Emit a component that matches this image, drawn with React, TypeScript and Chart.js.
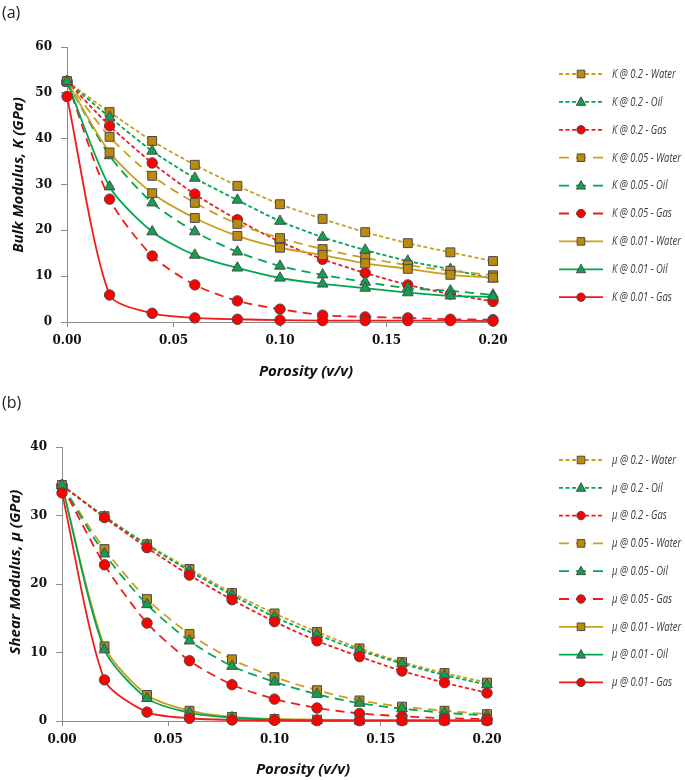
import React, { useEffect, useRef } from 'react';
import { Chart, registerables } from 'chart.js';

Chart.register(...registerables);

// ---------- data ----------
const porosity = [0, 0.02, 0.04, 0.06, 0.08, 0.1, 0.12, 0.14, 0.16, 0.18, 0.2];

const kLabels = [
  'K @ 0.2 - Water', 'K @ 0.2 - Oil', 'K @ 0.2 - Gas',
  'K @ 0.05 - Water', 'K @ 0.05 - Oil', 'K @ 0.05 - Gas',
  'K @ 0.01 - Water', 'K @ 0.01 - Oil', 'K @ 0.01 - Gas',
];
const K_02_Water = [52.5, 45.8, 39.5, 34.3, 29.7, 25.7, 22.5, 19.6, 17.2, 15.2, 13.3];
const K_02_Oil = [52.5, 44.7, 37.3, 31.4, 26.6, 22.0, 18.5, 15.7, 13.3, 11.5, 9.4];
const K_02_Gas = [52.5, 42.8, 34.7, 27.9, 22.3, 17.5, 13.7, 10.7, 8.1, 6.1, 4.5];
const K_005_Water = [52.5, 40.4, 31.9, 26.0, 21.4, 18.3, 15.9, 14.0, 12.4, 11.2, 10.2];
const K_005_Oil = [52.5, 36.3, 26.0, 19.7, 15.3, 12.2, 10.3, 8.7, 7.4, 6.8, 5.9];
const K_005_Gas = [52.5, 26.8, 14.4, 8.1, 4.6, 2.8, 1.5, 1.1, 0.9, 0.6, 0.5];
const K_001_Water = [52.5, 37.0, 28.1, 22.7, 18.8, 16.2, 14.6, 12.8, 11.6, 10.3, 9.7];
const K_001_Oil = [52.5, 29.5, 19.7, 14.6, 11.8, 9.6, 8.3, 7.4, 6.4, 5.7, 5.5];
const K_001_Gas = [49.2, 5.9, 1.9, 0.9, 0.6, 0.4, 0.3, 0.3, 0.3, 0.3, 0.2];

const muLabels = [
  'μ @ 0.2 - Water', 'μ @ 0.2 - Oil', 'μ @ 0.2 - Gas',
  'μ @ 0.05 - Water', 'μ @ 0.05 - Oil', 'μ @ 0.05 - Gas',
  'μ @ 0.01 - Water', 'μ @ 0.01 - Oil', 'μ @ 0.01 - Gas',
];
const MU_02_Water = [34.4, 29.9, 25.8, 22.2, 18.7, 15.7, 13.0, 10.6, 8.6, 7.0, 5.6];
const MU_02_Oil = [34.4, 29.8, 25.7, 21.9, 18.4, 15.2, 12.6, 10.3, 8.4, 6.7, 5.3];
const MU_02_Gas = [34.4, 29.7, 25.3, 21.3, 17.7, 14.5, 11.7, 9.4, 7.3, 5.6, 4.1];
const MU_005_Water = [34.4, 25.1, 17.8, 12.7, 9.0, 6.4, 4.5, 3.0, 2.1, 1.5, 1.0];
const MU_005_Oil = [34.4, 24.4, 17.0, 11.7, 8.0, 5.7, 3.9, 2.6, 1.8, 1.2, 0.8];
const MU_005_Gas = [34.4, 22.8, 14.3, 8.8, 5.3, 3.2, 1.9, 1.1, 0.7, 0.4, 0.3];
const MU_001_Water = [34.4, 10.9, 3.8, 1.5, 0.6, 0.3, 0.2, 0.1, 0.1, 0.1, 0.1];
const MU_001_Oil = [34.4, 10.4, 3.3, 1.2, 0.5, 0.2, 0.1, 0.1, 0.1, 0.1, 0.1];
const MU_001_Gas = [33.3, 6.0, 1.3, 0.4, 0.15, 0.1, 0.05, 0.05, 0.05, 0.05, 0.05];

const xTicks = [0, 0.05, 0.1, 0.15, 0.2];
const kTicks = [0, 10, 20, 30, 40, 50, 60];
const muTicks = [0, 10, 20, 30, 40];

// ---------- styles ----------
const lineColors = ['#C9A01E', '#00A651', '#EE1C1C'];
const fillColors = ['#BC8A0C', '#12A150', '#FF0000'];
const markerEdge = '#4a4a4a';
const pointStyles = ['rect', 'triangle', 'circle'];
const pointRadii = [6.3, 6.2, 5.2];
const dashes = [[4, 2.5], [9, 6], []];
const legendDashes = [[4, 2.5], [10, 7], []];

function makeDatasets(labels: string[], values: number[][]) {
  return values.map((vals, i) => {
    const f = i % 3;
    const c = Math.floor(i / 3);
    return {
      label: labels[i],
      data: vals.map((v, j) => ({ x: porosity[j], y: v })),
      borderColor: lineColors[f],
      backgroundColor: fillColors[f],
      pointBackgroundColor: fillColors[f],
      pointBorderColor: markerEdge,
      pointBorderWidth: 1,
      pointStyle: pointStyles[f],
      pointRadius: pointRadii[f],
      borderWidth: 1.8,
      borderDash: dashes[c],
      legendDash: legendDashes[c],
      tension: 0.25,
      order: values.length - i,
      clip: false,
      fill: false,
    };
  });
}

function drawMarker(ctx: CanvasRenderingContext2D, style: string, x: number, y: number, r: number, fill: string) {
  ctx.save();
  ctx.fillStyle = fill;
  ctx.strokeStyle = markerEdge;
  ctx.lineWidth = 1;
  ctx.setLineDash([]);
  ctx.beginPath();
  if (style === 'rect') {
    ctx.rect(x - r, y - r, 2 * r, 2 * r);
  } else if (style === 'triangle') {
    ctx.moveTo(x, y - r * 1.1);
    ctx.lineTo(x + r, y + r * 0.75);
    ctx.lineTo(x - r, y + r * 0.75);
    ctx.closePath();
  } else {
    ctx.arc(x, y, r, 0, Math.PI * 2);
  }
  ctx.fill();
  ctx.stroke();
  ctx.restore();
}

const legendPlugin = {
  id: 'customLegend',
  afterDraw(chart: any, _args: any, opts: any) {
    const ctx: CanvasRenderingContext2D = chart.ctx;
    const sizes = [3.8, 4.6, 4.2];
    chart.data.datasets.forEach((ds: any, i: number) => {
      const y = opts.top + i * opts.gap;
      const f = i % 3;
      ctx.save();
      ctx.strokeStyle = ds.borderColor;
      ctx.lineWidth = 1.8;
      ctx.setLineDash(ds.legendDash);
      ctx.beginPath();
      ctx.moveTo(opts.x1, y);
      ctx.lineTo(opts.x2, y);
      ctx.stroke();
      ctx.restore();
      drawMarker(ctx, ds.pointStyle, (opts.x1 + opts.x2) / 2, y, sizes[f], ds.pointBackgroundColor);
      ctx.save();
      ctx.fillStyle = '#3a3a3a';
      ctx.font = 'italic 13.5px "Open Sans"';
      ctx.textBaseline = 'middle';
      ctx.textAlign = 'left';
      const w = ctx.measureText(ds.label).width;
      ctx.fillText(ds.label, opts.textX, y, w * 0.7);
      ctx.restore();
    });
  },
};

const titlesPlugin = {
  id: 'axisTitles',
  afterDraw(chart: any, _args: any, opts: any) {
    const ctx: CanvasRenderingContext2D = chart.ctx;
    ctx.save();
    ctx.fillStyle = '#111';
    ctx.font = 'italic bold 15px "Open Sans"';
    ctx.textAlign = 'center';
    ctx.textBaseline = 'middle';
    ctx.fillText(opts.xText, opts.xX, opts.xY);
    ctx.translate(opts.yX, opts.yY);
    ctx.rotate(-Math.PI / 2);
    ctx.fillText(opts.yText, 0, 0);
    ctx.restore();
  },
};

const tickFont = { family: '"DejaVu Serif"', weight: 'bold' as const, size: 12 };
const axisColor = '#8c8c8c';

function makeConfig(opts: {
  datasets: any[];
  yMax: number;
  yTickValues: number[];
  area: { left: number; right: number; top: number; bottom: number };
  height: number;
  legendTop: number;
  legendGap: number;
  titles: any;
}) {
  const { area } = opts;
  return {
    type: 'line',
    data: { datasets: opts.datasets },
    options: {
      responsive: false,
      animation: false,
      devicePixelRatio: 1,
      layout: { padding: { left: 0, top: area.top, right: 685 - area.right, bottom: 0 } },
      plugins: {
        legend: { display: false },
        tooltip: { enabled: false },
        customLegend: { x1: 559, x2: 603, textX: 612, top: opts.legendTop, gap: opts.legendGap },
        axisTitles: opts.titles,
      },
      scales: {
        x: {
          type: 'linear',
          min: 0,
          max: 0.2,
          afterBuildTicks: (s: any) => { s.ticks = xTicks.map((v) => ({ value: v })); },
          ticks: {
            callback: (v: any) => Number(v).toFixed(2),
            font: tickFont,
            color: '#111',
            padding: 7,
            maxRotation: 0,
            autoSkip: false,
          },
          grid: { drawOnChartArea: false, drawTicks: true, tickLength: 5, color: axisColor },
          border: { display: true, color: axisColor, width: 1 },
          afterFit: (s: any) => { s.height = opts.height - area.bottom; },
        },
        y: {
          type: 'linear',
          min: 0,
          max: opts.yMax,
          afterBuildTicks: (s: any) => { s.ticks = opts.yTickValues.map((v) => ({ value: v })); },
          ticks: { font: tickFont, color: '#111', padding: 9 },
          grid: { drawOnChartArea: false, drawTicks: true, tickLength: 6, color: axisColor },
          border: { display: true, color: axisColor, width: 1 },
          afterFit: (s: any) => { s.width = area.left; },
        },
      },
    },
    plugins: [legendPlugin, titlesPlugin],
  };
}

function Panel(props: { top: number; config: any; label: string }) {
  const ref = useRef<HTMLCanvasElement | null>(null);
  useEffect(() => {
    if (!ref.current) return;
    const chart = new Chart(ref.current, props.config);
    return () => chart.destroy();
  }, []);
  return (
    <>
      <canvas
        ref={ref}
        width={685}
        height={390}
        style={{ position: 'absolute', left: 0, top: props.top, width: 685, height: 390, display: 'block' }}
      />
      <div
        style={{
          position: 'absolute',
          left: 2,
          top: props.top + 1,
          font: '16px "Open Sans"',
          color: '#222',
          lineHeight: '22px',
        }}
      >
        {props.label}
      </div>
    </>
  );
}

export default function App() {
  const configA = makeConfig({
    datasets: makeDatasets(kLabels, [
      K_02_Water, K_02_Oil, K_02_Gas,
      K_005_Water, K_005_Oil, K_005_Gas,
      K_001_Water, K_001_Oil, K_001_Gas,
    ]),
    yMax: 60,
    yTickValues: kTicks,
    area: { left: 67, right: 493, top: 47, bottom: 322 },
    height: 390,
    legendTop: 74,
    legendGap: 27.9,
    titles: { xText: 'Porosity (v/v)', xX: 306, xY: 372, yText: 'Bulk Modulus, K (GPa)', yX: 19, yY: 175 },
  });
  const configB = makeConfig({
    datasets: makeDatasets(muLabels, [
      MU_02_Water, MU_02_Oil, MU_02_Gas,
      MU_005_Water, MU_005_Oil, MU_005_Gas,
      MU_001_Water, MU_001_Oil, MU_001_Gas,
    ]),
    yMax: 40,
    yTickValues: muTicks,
    area: { left: 62, right: 487, top: 57, bottom: 331 },
    height: 390,
    legendTop: 70,
    legendGap: 27.8,
    titles: { xText: 'Porosity (v/v)', xX: 303, xY: 380, yText: 'Shear Modulus, μ (GPa)', yX: 16, yY: 182 },
  });
  return (
    <div style={{ position: 'absolute', left: 0, top: 0, width: 685, height: 780, background: '#fff' }}>
      <Panel top={0} config={configA} label="(a)" />
      <Panel top={390} config={configB} label="(b)" />
    </div>
  );
}
